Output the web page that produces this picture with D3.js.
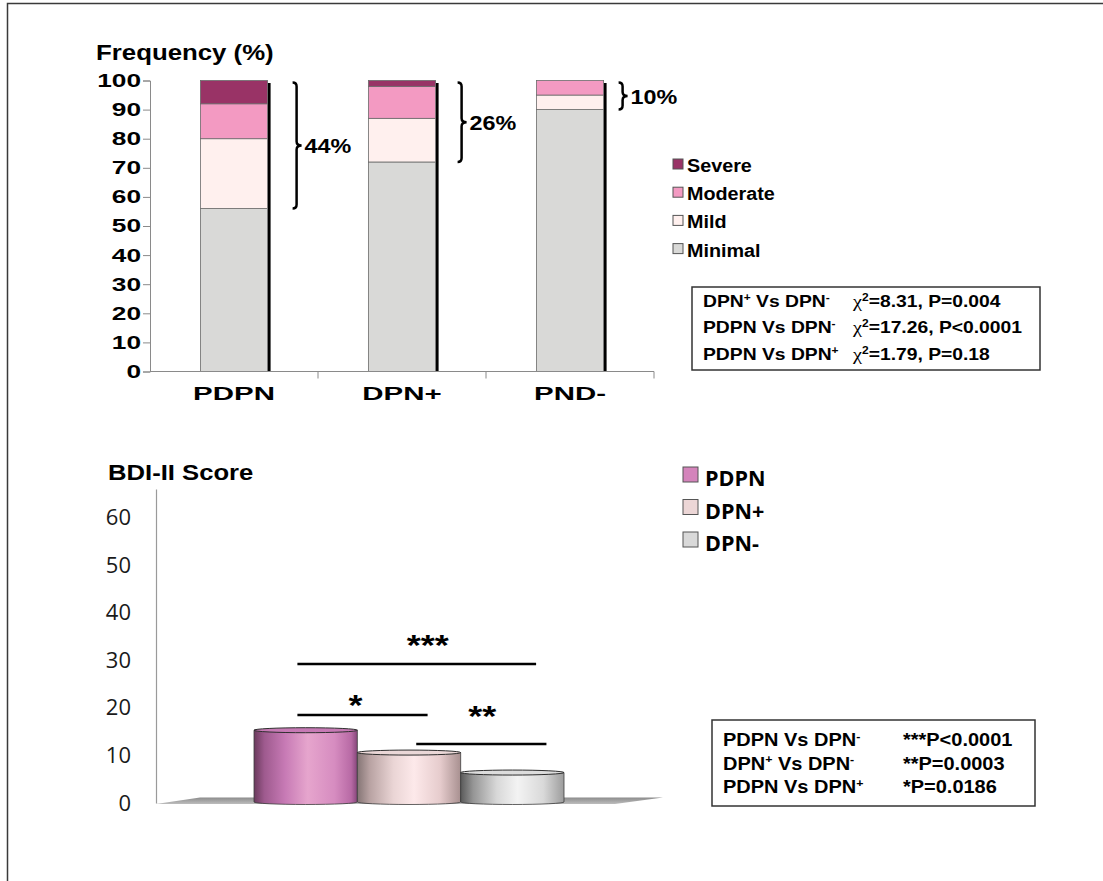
<!DOCTYPE html>
<html>
<head>
<meta charset="utf-8">
<script src="https://cdn.jsdelivr.net/npm/d3@7"></script>
<style>
  body { margin: 0; background: #fff; }
  svg { display: block; }
</style>
</head>
<body>
<svg id="chart" width="1103" height="881"></svg>
<script>
// ---- data ----
var freqCats = ["PDPN", "DPN+", "PND-"];
var severityKeys = ["Minimal", "Mild", "Moderate", "Severe"];
var minimalVals = [56, 72, 90];
var mildVals = [24, 15, 5];
var moderateVals = [12, 11, 5];
var severeVals = [8, 2, 0];
var braceLabels = ["44%", "26%", "10%"];
var freqTicks = [0, 10, 20, 30, 40, 50, 60, 70, 80, 90, 100];
var chiLeft = ["DPN^+ Vs DPN^-", "PDPN Vs DPN^-", "PDPN Vs DPN^+"];
var chiRight = ["χ^2=8.31, P=0.004", "χ^2=17.26, P<0.0001", "χ^2=1.79, P=0.18"];

var bdiCats = ["PDPN", "DPN+", "DPN-"];
var bdiVals = [15.3, 10.6, 6.4];
var bdiTicks = [0, 10, 20, 30, 40, 50, 60];
var sigFrom = ["PDPN", "PDPN", "DPN+"];
var sigTo = ["DPN-", "DPN+", "DPN-"];
var sigLevel = [29.2, 18.5, 12.4];
var sigLabels = ["***", "*", "**"];
var pLeft = ["PDPN Vs DPN^-", "DPN^+ Vs DPN^-", "PDPN Vs DPN^+"];
var pRight = ["***P<0.0001", "**P=0.0003", "*P=0.0186"];

// ---- styles ----
var sevColor = { Minimal: "#d9d9d7", Mild: "#fff0ee", Moderate: "#f39ac2", Severe: "#993366" };
var ARIAL = "'Liberation Sans', Arial, sans-serif";
var CALIBRI = "'Open Sans', sans-serif";

var svg = d3.select("#chart");

// outer frame (top + left only)
svg.append("path")
    .attr("d", "M7.5,881 L7.5,3.5 L1103,3.5")
    .attr("fill", "none").attr("stroke", "#3a3a3a").attr("stroke-width", 1.5);

// text helper: horizontally stretched text, like the original slide
function txt(parent, x, y, str, size, k, opts) {
  opts = opts || {};
  var t = parent.append("text")
      .attr("transform", "translate(" + x + "," + y + ") scale(" + k + ",1)")
      .attr("font-family", opts.family || ARIAL)
      .attr("font-weight", opts.weight || "bold")
      .attr("font-size", size)
      .attr("text-anchor", opts.anchor || "start")
      .attr("fill", opts.fill || "#000");
  rich(t, str, size);
  return t;
}
// "^x" -> superscript x, "χ" -> serif glyph
function rich(t, str, size) {
  var i = 0, buf = "", pend = 0;
  function put(s) {
    var ts = t.append("tspan").text(s);
    if (pend) { ts.attr("dy", pend); pend = 0; }
    return ts;
  }
  function flush() { if (buf) { put(buf); buf = ""; } }
  while (i < str.length) {
    var c = str[i];
    if (c === "^") {
      flush();
      put(str[i + 1]).attr("font-size", size * 0.62).attr("dy", -size * 0.36);
      pend = size * 0.36;
      i += 2; continue;
    }
    if (c === "χ") {
      flush();
      put("χ").attr("font-family", "'Liberation Serif', serif").attr("font-weight", "normal")
          .attr("font-size", size * 1.05);
      i++; continue;
    }
    buf += c; i++;
  }
  flush();
}

// ================= TOP: frequency stacked bars =================
var yF = d3.scaleLinear().domain([0, 100]).range([371.5, 80.5]);
var xF = d3.scaleBand().domain(freqCats).range([150, 654]).paddingInner(0.6).paddingOuter(0.3);

var rows = freqCats.map(function(c, i) {
  return { cat: c, Minimal: minimalVals[i], Mild: mildVals[i], Moderate: moderateVals[i], Severe: severeVals[i] };
});
var stacked = d3.stack().keys(severityKeys)(rows);

var gTop = svg.append("g");

txt(gTop, 96, 60, "Frequency (%)", 21.5, 1.2);

// shadow line on right of each bar
gTop.append("g").selectAll("line").data(rows).enter().append("line")
    .attr("x1", function(d) { return xF(d.cat) + xF.bandwidth() + 1.5; })
    .attr("x2", function(d) { return xF(d.cat) + xF.bandwidth() + 1.5; })
    .attr("y1", yF(100) + 2.5).attr("y2", yF(0))
    .attr("stroke", "#000").attr("stroke-width", 3);

gTop.append("g").selectAll("g").data(stacked).enter().append("g")
    .attr("fill", function(s) { return sevColor[s.key]; })
  .selectAll("rect").data(function(s) { return s.filter(function(d) { return d[1] > d[0]; }); })
  .enter().append("rect")
    .attr("x", function(d) { return xF(d.data.cat); })
    .attr("width", xF.bandwidth())
    .attr("y", function(d) { return yF(d[1]); })
    .attr("height", function(d) { return yF(d[0]) - yF(d[1]); })
    .attr("stroke", "#6b6b6b").attr("stroke-width", 0.8);

// y axis
var yk = 1.42;
var yAxF = gTop.append("g").attr("transform", "translate(150,0)")
    .call(d3.axisLeft(yF).tickValues(freqTicks).tickSize(7).tickPadding(9));
yAxF.select(".domain").attr("stroke", "#8a8a8a");
yAxF.selectAll(".tick line").attr("stroke", "#8a8a8a");
yAxF.selectAll(".tick text")
    .attr("font-family", ARIAL).attr("font-weight", "bold").attr("font-size", 18.5).attr("fill", "#000")
    .attr("x", -9 / yk).attr("transform", "scale(" + yk + ",1)");

// x axis
gTop.append("line").attr("x1", 150).attr("x2", 654).attr("y1", yF(0)).attr("y2", yF(0))
    .attr("stroke", "#8a8a8a");
gTop.append("g").selectAll("line").data(freqCats).enter().append("line")
    .attr("x1", function(c) { return xF(c) + xF.bandwidth() + xF.step() * 0.3; })
    .attr("x2", function(c) { return xF(c) + xF.bandwidth() + xF.step() * 0.3; })
    .attr("y1", yF(0)).attr("y2", yF(0) + 7)
    .attr("stroke", "#8a8a8a");
freqCats.forEach(function(c) {
  txt(gTop, xF(c) + xF.bandwidth() / 2, yF(0) + 28, c, 19, 1.55, { anchor: "middle" });
});

// braces
var braceDx = [29, 26, 19];
function bracePath(x, y0, y1) {
  var ym = (y0 + y1) / 2, w = 4, p = 5;
  return "M" + (x - w) + "," + y0 + " Q" + x + "," + y0 + " " + x + "," + (y0 + w) +
         " L" + x + "," + (ym - w) + " Q" + x + "," + ym + " " + (x + p) + "," + ym +
         " Q" + x + "," + ym + " " + x + "," + (ym + w) +
         " L" + x + "," + (y1 - w) + " Q" + x + "," + y1 + " " + (x - w) + "," + y1;
}
rows.forEach(function(d, i) {
  var bx = xF(d.cat) + xF.bandwidth() + braceDx[i];
  var y0 = yF(100) + 2, y1 = yF(d.Minimal);
  gTop.append("path").attr("d", bracePath(bx, y0, y1))
      .attr("fill", "none").attr("stroke", "#000").attr("stroke-width", 2.5);
  txt(gTop, bx + 8, (y0 + y1) / 2 + 7.5, braceLabels[i], 20.5, 1.14);
});

// legend
var legKeys = severityKeys.slice().reverse();
legKeys.forEach(function(k, i) {
  var y = 172 + i * 28.2;
  gTop.append("rect").attr("x", 673).attr("y", y - 13).attr("width", 10).attr("height", 10)
      .attr("fill", sevColor[k]).attr("stroke", "#555").attr("stroke-width", 1);
  txt(gTop, 687, y, k, 17.5, 1.13);
});

// chi-square box
gTop.append("rect").attr("x", 692).attr("y", 287).attr("width", 348).attr("height", 83)
    .attr("fill", "#fff").attr("stroke", "#333").attr("stroke-width", 1.5);
chiLeft.forEach(function(s, i) {
  var y = 306.5 + i * 26.7;
  txt(gTop, 703, y, s, 16.5, 1.17);
  txt(gTop, 853, y, chiRight[i], 16.5, 1.17);
});

// ================= BOTTOM: BDI-II score =================
var yB = d3.scaleLinear().domain([0, 66]).range([803, 489]);
var xB = d3.scaleBand().domain(bdiCats).range([254, 564]).padding(0);
var gBot = svg.append("g");

txt(gBot, 108, 480, "BDI-II Score", 22.5, 1.14);

var defs = svg.append("defs");
var grads = [
  [["0%", "#6a3a5c"], ["10%", "#9e5a8e"], ["30%", "#c77ab5"], ["52%", "#e6a5cd"], ["78%", "#d68cc0"], ["94%", "#b86aa5"], ["100%", "#86467a"]],
  [["0%", "#857575"], ["12%", "#b8a2a2"], ["35%", "#ead5d5"], ["55%", "#fde9ea"], ["80%", "#e6cccd"], ["100%", "#a89090"]],
  [["0%", "#5a5a5a"], ["12%", "#959595"], ["35%", "#d8d8d8"], ["55%", "#f3f3f3"], ["80%", "#d9d9d9"], ["100%", "#9c9c9c"]]
];
var topFill = ["#c77ab5", "#ead7d7", "#dcdcdc"];
grads.forEach(function(g, i) {
  var lg = defs.append("linearGradient").attr("id", "bg" + i)
      .attr("x1", "0%").attr("x2", "100%").attr("y1", "0%").attr("y2", "0%");
  g.forEach(function(s) { lg.append("stop").attr("offset", s[0]).attr("stop-color", s[1]); });
});
var fg = defs.append("linearGradient").attr("id", "floorG").attr("x1", "0").attr("x2", "0").attr("y1", "0").attr("y2", "1");
fg.append("stop").attr("offset", "0%").attr("stop-color", "#8c8c8c");
fg.append("stop").attr("offset", "100%").attr("stop-color", "#bdbdbd");

// floor
var fy = yB(0);
gBot.append("path")
    .attr("d", "M156," + (fy + 1) + " L200," + (fy - 5.5) + " L663," + (fy - 5.5) + " L615," + (fy + 1) + " Z")
    .attr("fill", "url(#floorG)");

// y axis
var yAxB = gBot.append("g").attr("transform", "translate(156,0)")
    .call(d3.axisLeft(yB).tickValues(bdiTicks).tickSize(0).tickPadding(25));
yAxB.select(".domain").attr("stroke", "#9a9a9a").attr("stroke-width", 1.2);
yAxB.selectAll(".tick text")
    .attr("font-family", CALIBRI).attr("font-size", 22).attr("fill", "#1a1a1a");

// cylinders
var ry = 2.5;
bdiCats.forEach(function(c, i) {
  var x0 = xB(c), x1 = xB(c) + xB.bandwidth(), rx = xB.bandwidth() / 2;
  var yt = yB(bdiVals[i]), yb = yB(0) - 1;
  gBot.append("path")
      .attr("d", "M" + x0 + "," + yt + " L" + x0 + "," + yb +
                 " A" + rx + "," + ry + " 0 0 0 " + x1 + "," + yb +
                 " L" + x1 + "," + yt + " Z")
      .attr("fill", "url(#bg" + i + ")").attr("stroke", "#3c3c3c").attr("stroke-width", 0.8);
  gBot.append("ellipse").attr("cx", x0 + rx).attr("cy", yt).attr("rx", rx).attr("ry", ry)
      .attr("fill", topFill[i]).attr("stroke", "#2e2e2e").attr("stroke-width", 1);
});

// significance lines
var sigPos = [[0.42, 0.73], [0.42, 0.68], [0.57, 0.83]];
var sigText = [[11, -12], [-7, -2.5], [1, -21.5]];
sigLabels.forEach(function(lab, i) {
  var bw = xB.bandwidth();
  var xa = xB(sigFrom[i]) + sigPos[i][0] * bw, xb = xB(sigTo[i]) + sigPos[i][1] * bw;
  var y = yB(sigLevel[i]);
  gBot.append("line").attr("x1", xa).attr("x2", xb).attr("y1", y).attr("y2", y)
      .attr("stroke", "#000").attr("stroke-width", 2.5);
  txt(gBot, (xa + xb) / 2 + sigText[i][0], y + sigText[i][1] + 3, lab, 29, 1.24, { anchor: "middle" });
});

// legend
var legFill = ["#d484bb", "#ecd6d6", "#d9d9d9"];
bdiCats.forEach(function(c, i) {
  var y = 486 + i * 32.5;
  gBot.append("rect").attr("x", 683).attr("y", y - 19).attr("width", 15).attr("height", 15)
      .attr("fill", legFill[i]).attr("stroke", "#555").attr("stroke-width", 1);
  txt(gBot, 705, y, c, 22, 0.98, { family: CALIBRI });
});

// p-value box
gBot.append("rect").attr("x", 712).attr("y", 720).attr("width", 323).attr("height", 86)
    .attr("fill", "#fff").attr("stroke", "#333").attr("stroke-width", 1.5);
pLeft.forEach(function(s, i) {
  var y = 746 + i * 23.5;
  txt(gBot, 723, y, s, 18, 1.11);
  txt(gBot, 903, y, pRight[i], 18, 1.11);
});
</script>
</body>
</html>
